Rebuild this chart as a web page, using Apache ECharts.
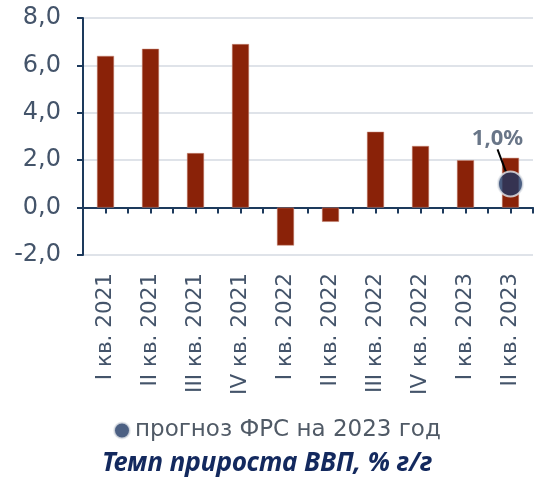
<!DOCTYPE html>
<html>
<head>
<meta charset="utf-8">
<script src="https://cdn.jsdelivr.net/npm/echarts@6/dist/echarts.min.js"></script>
<style>
  html, body { margin: 0; padding: 0; background: #fff; }
  #chart { width: 542px; height: 477px; }
</style>
</head>
<body>
<div id="chart"></div>
<script>
const categories = ['I кв. 2021', 'II кв. 2021', 'III кв. 2021', 'IV кв. 2021',
  'I кв. 2022', 'II кв. 2022', 'III кв. 2022', 'IV кв. 2022', 'I кв. 2023', 'II кв. 2023'];
const gdpGrowth = [6.4, 6.7, 2.3, 6.9, -1.6, -0.6, 3.2, 2.6, 2.0, 2.1];
const forecast = [null, null, null, null, null, null, null, null, null, 1.0];
const yTicks = [-2, 0, 2, 4, 6, 8];

const fmt = v => v.toFixed(1).replace('.', ',');
const axisColor = '#1d3a5c';
const textColor = '#44546a';

const chart = echarts.init(document.getElementById('chart'));
chart.setOption({
  animation: false,
  grid: { left: 83, right: 9, top: 18, bottom: 222 },
  title: {
    text: 'Темп прироста ВВП, % г/г',
    left: 97, top: 446,
    textStyle: { fontFamily: 'Noto Sans', fontStyle: 'italic', fontWeight: 'bold', fontSize: 26, color: '#13295e' }
  },
  legend: {
    data: ['прогноз ФРС на 2023 год'],
    left: 108, top: 414,
    icon: 'circle', itemWidth: 16, itemHeight: 16, itemGap: 3,
    textStyle: { fontFamily: 'DejaVu Sans', fontSize: 23, color: '#505a66' }
  },
  xAxis: [{
    type: 'category',
    data: categories,
    axisLine: { onZero: true, lineStyle: { color: axisColor, width: 2 } },
    axisTick: { show: false },
    axisLabel: { rotate: 90, interval: 0, margin: 18, fontFamily: 'DejaVu Sans', fontSize: 21.5, color: textColor }
  }, {
    // half-category ticks along the zero line
    type: 'value',
    min: 0, max: categories.length * 2, interval: 1,
    position: 'bottom',
    axisLine: { show: false, onZero: false },
    axisTick: { show: true, length: 6, lineStyle: { color: axisColor, width: 2 } },
    axisLabel: { show: false },
    splitLine: { show: false },
    offset: -47.5
  }],
  yAxis: {
    type: 'value',
    min: yTicks[0], max: yTicks[yTicks.length - 1], interval: 2,
    axisLine: { show: true, lineStyle: { color: axisColor, width: 2 } },
    axisTick: { show: true, length: 6, lineStyle: { color: axisColor, width: 2 } },
    splitLine: { lineStyle: { color: '#dfe3e9', width: 2 } },
    axisLabel: { formatter: fmt, fontFamily: 'DejaVu Sans', fontSize: 24, color: textColor, margin: 22 }
  },
  series: [{
    type: 'bar',
    data: gdpGrowth,
    barWidth: 17,
    itemStyle: { color: '#8a2208', borderColor: '#c98a78', borderWidth: 0.5 },
    z: 2
  }, {
    name: 'прогноз ФРС на 2023 год',
    type: 'scatter',
    data: forecast,
    symbolSize: 25,
    itemStyle: { color: '#1f3864', borderColor: '#e6e8ec', borderWidth: 2 },
    label: {
      show: true, position: 'top',
      formatter: p => fmt(p.value) + '%',
      fontFamily: 'Noto Sans', fontWeight: 'bold', fontSize: 22, color: '#44546a'
    },
    labelLayout: { dx: -13, dy: -16 },
    labelLine: { show: true, lineStyle: { color: '#000', width: 2 } },
    z: 5
  }]
});
</script>
</body>
</html>
